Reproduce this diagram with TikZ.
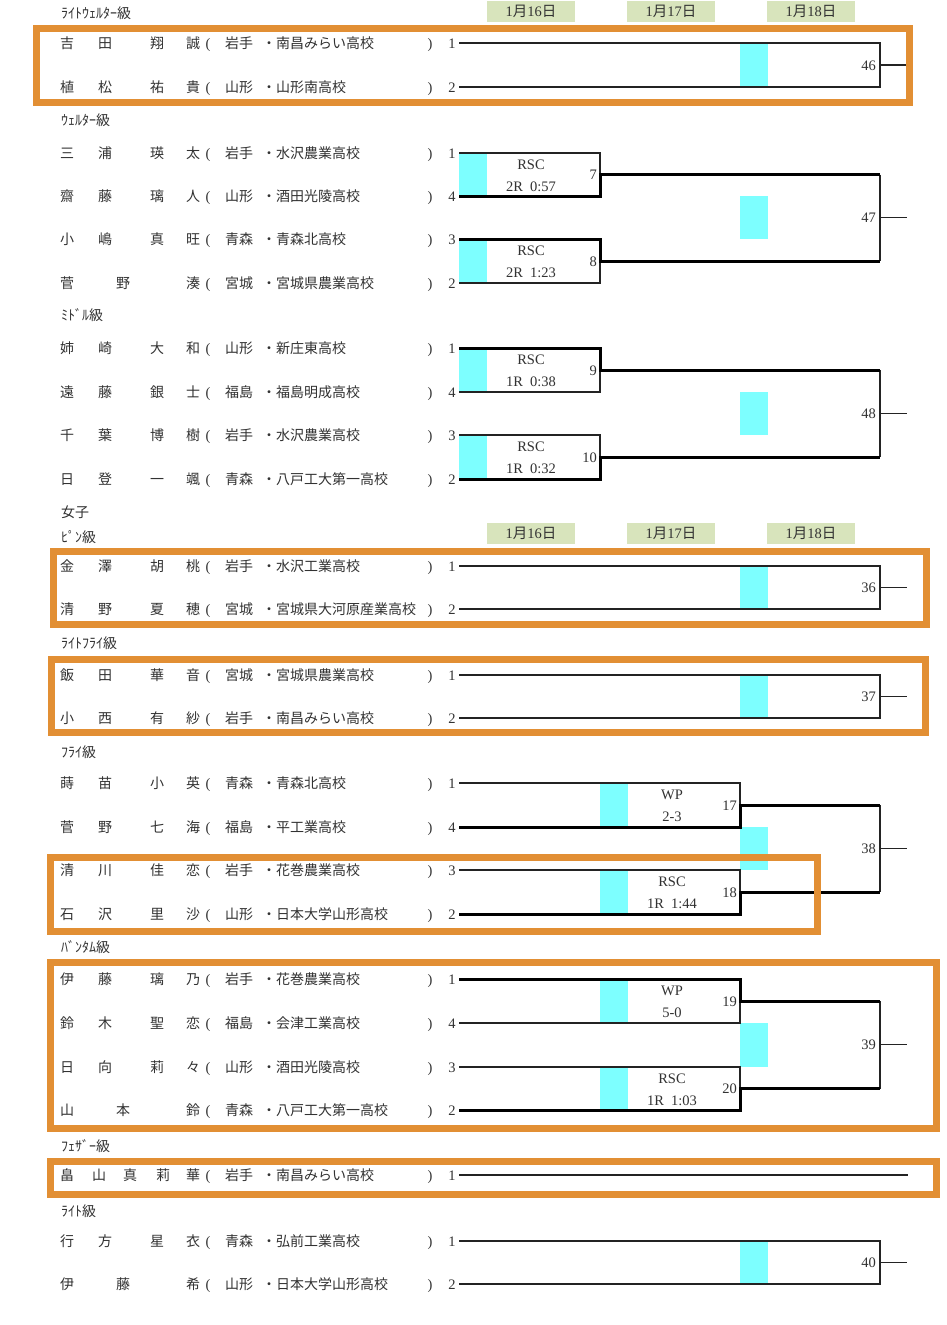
\documentclass[tikz,border=0pt]{standalone}
\usepackage{fontspec}
\setmainfont{Liberation Serif}
\newfontfamily\jp{Noto Sans CJK JP}
\definecolor{orangec}{RGB}{226,143,52}
\definecolor{cyanc}{RGB}{125,255,255}
\definecolor{datec}{RGB}{216,228,188}
\definecolor{txtc}{RGB}{50,50,50}
\definecolor{linec}{RGB}{35,35,35}
\newcounter{tn}
\newcommand\Tx[4][txt]{\stepcounter{tn}\node[#1] (t\arabic{tn}) at (#2,#3+5) {#4};}
\newcommand\prest[4]{\Tx[lat]{208}{#1}{(}\Tx{239}{#1}{#2}\Tx[txtw]{262}{#1}{・#3}\Tx[lat]{430}{#1}{)}\Tx[lat]{452}{#1}{#4}}
\newcommand\pfour[8]{\Tx{67}{#1}{#2}\Tx{105}{#1}{#3}\Tx{157}{#1}{#4}\Tx{193}{#1}{#5}\prest{#1}{#6}{#7}{#8}}
\newcommand\pthree[7]{\Tx{67}{#1}{#2}\Tx{123}{#1}{#3}\Tx{193}{#1}{#4}\prest{#1}{#5}{#6}{#7}}
\newcommand\ftwo[3]{%
  \fill[cyanc] (740,#1) rectangle (768,#2);
  \draw[thinl] (459,#1) -- (880,#1) -- (880,#2) -- (459,#2);
  \pgfmathsetmacro\ymid{(#1+#2)/2}
  \draw[thinl] (880,\ymid) -- (907,\ymid);
  \Tx[latr]{876}{\ymid}{#3}}
\newcommand\ffour[5]{%
  \fill[cyanc] (740,#4) rectangle (768,#5);
  \draw[thinl] (880,#1) -- (880,#2);
  \pgfmathsetmacro\ymid{(#1+#2)/2}
  \draw[thinl] (880,\ymid) -- (907,\ymid);
  \Tx[latr]{876}{\ymid}{#3}}
\newcommand\pairb[8]{%
  \pgfmathsetmacro\pmid{(#1+#2)/2}
  \fill[cyanc] (#4,#1) rectangle (#4+28,#2);
  \ifnum#8=1
    \draw[thinl] (459,#2) -- (#3,#2) -- (#3,\pmid);
    \draw[thickl] (459,#1) -- (#3,#1) -- (#3,\pmid) -- (880,\pmid);
  \else
    \draw[thinl] (459,#1) -- (#3,#1) -- (#3,\pmid);
    \draw[thickl] (459,#2) -- (#3,#2) -- (#3,\pmid) -- (880,\pmid);
  \fi
  \Tx[lat]{#4+72}{#1+11}{#5}
  \Tx[lat]{#4+72}{#1+33}{#6}
  \Tx[latr]{#3-3}{\pmid}{#7}}
\newcommand\dates[1]{%
  \fill[datec] (487,#1) rectangle (575,#1+21);
  \fill[datec] (627,#1) rectangle (715,#1+21);
  \fill[datec] (767,#1) rectangle (855,#1+21);
  \Tx[lat]{531}{#1+10.5}{1{\jp 月}16{\jp 日}}
  \Tx[lat]{671}{#1+10.5}{1{\jp 月}17{\jp 日}}
  \Tx[lat]{811}{#1+10.5}{1{\jp 月}18{\jp 日}}}
\begin{document}
\begin{tikzpicture}[x=1pt,y=-1pt,
  txt/.style={inner sep=0pt,anchor=base,text=txtc,font=\jp\fontsize{14}{15}\selectfont},
  txtw/.style={txt,anchor=base west},
  lbl/.style={txt,anchor=base west,font=\jp\fontsize{14}{14}\selectfont},
  lat/.style={inner sep=0pt,anchor=base,text=txtc,font=\fontsize{14.5}{15}\selectfont},
  latr/.style={lat,anchor=base east},
  thinl/.style={draw=linec,line width=1.1pt},
  thickl/.style={draw=black,line width=3pt},
  obox/.style={draw=orangec,line width=7pt}]
\useasboundingbox (0,0) rectangle (946,1325);
\fill[white] (0,0) rectangle (946,1325);

% ---- dates
\dates{1}
\dates{523}

% ---- Light welter
\Tx[lbl]{61}{13}{ﾗｲﾄｳｪﾙﾀｰ級}
\ftwo{43}{87}{46}
\pfour{43}{吉}{田}{翔}{誠}{岩手}{南昌みらい高校}{1}
\pfour{87}{植}{松}{祐}{貴}{山形}{山形南高校}{2}

% ---- Welter
\Tx[lbl]{61}{120}{ｳｪﾙﾀｰ級}
\ffour{174.5}{261}{47}{196}{239}
\pairb{153}{196}{600}{459}{RSC}{2R\ \ 0:57}{7}{2}
\pairb{239}{283}{600}{459}{RSC}{2R\ \ 1:23}{8}{1}
\pfour{153}{三}{浦}{瑛}{太}{岩手}{水沢農業高校}{1}
\pfour{196}{齋}{藤}{璃}{人}{山形}{酒田光陵高校}{4}
\pfour{239}{小}{嶋}{真}{旺}{青森}{青森北高校}{3}
\pthree{283}{菅}{野}{湊}{宮城}{宮城県農業高校}{2}

% ---- Middle
\Tx[lbl]{61}{315}{ﾐﾄﾞﾙ級}
\ffour{370}{457}{48}{392}{435}
\pairb{348}{392}{600}{459}{RSC}{1R\ \ 0:38}{9}{1}
\pairb{435}{479}{600}{459}{RSC}{1R\ \ 0:32}{10}{2}
\pfour{348}{姉}{崎}{大}{和}{山形}{新庄東高校}{1}
\pfour{392}{遠}{藤}{銀}{士}{福島}{福島明成高校}{4}
\pfour{435}{千}{葉}{博}{樹}{岩手}{水沢農業高校}{3}
\pfour{479}{日}{登}{一}{颯}{青森}{八戸工大第一高校}{2}

% ---- Women
\Tx[lbl]{61}{512}{女子}
\Tx[lbl]{61}{537}{ﾋﾟﾝ級}
\ftwo{566}{609}{36}
\pfour{566}{金}{澤}{胡}{桃}{岩手}{水沢工業高校}{1}
\pfour{609}{清}{野}{夏}{穂}{宮城}{宮城県大河原産業高校}{2}

\Tx[lbl]{61}{643}{ﾗｲﾄﾌﾗｲ級}
\ftwo{675}{718}{37}
\pfour{675}{飯}{田}{華}{音}{宮城}{宮城県農業高校}{1}
\pfour{718}{小}{西}{有}{紗}{岩手}{南昌みらい高校}{2}

% ---- Fly
\Tx[lbl]{61}{752}{ﾌﾗｲ級}
\ffour{805}{892}{38}{827}{870}
\pairb{783}{827}{740}{600}{WP}{2-3}{17}{2}
\pairb{870}{914}{740}{600}{RSC}{1R\ \ 1:44}{18}{2}
\pfour{783}{蒔}{苗}{小}{英}{青森}{青森北高校}{1}
\pfour{827}{菅}{野}{七}{海}{福島}{平工業高校}{4}
\pfour{870}{清}{川}{佳}{恋}{岩手}{花巻農業高校}{3}
\pfour{914}{石}{沢}{里}{沙}{山形}{日本大学山形高校}{2}

% ---- Bantam
\Tx[lbl]{61}{947}{ﾊﾞﾝﾀﾑ級}
\ffour{1001}{1088.5}{39}{1023}{1067}
\pairb{979}{1023}{740}{600}{WP}{5-0}{19}{1}
\pairb{1067}{1110}{740}{600}{RSC}{1R\ \ 1:03}{20}{2}
\pfour{979}{伊}{藤}{璃}{乃}{岩手}{花巻農業高校}{1}
\pfour{1023}{鈴}{木}{聖}{恋}{福島}{会津工業高校}{4}
\pfour{1067}{日}{向}{莉}{々}{山形}{酒田光陵高校}{3}
\pthree{1110}{山}{本}{鈴}{青森}{八戸工大第一高校}{2}

% ---- Feather
\Tx[lbl]{61}{1146}{ﾌｪｻﾞｰ級}
\coordinate (fa) at (459,1175);
\coordinate (fb) at (908,1175);
\draw[thinl] (fa) -- (fb);
\Tx{67}{1175}{畠}\Tx{99}{1175}{山}\Tx{130}{1175}{真}\Tx{163}{1175}{莉}\Tx{193}{1175}{華}
\prest{1175}{岩手}{南昌みらい高校}{1}

% ---- Light
\Tx[lbl]{61}{1211}{ﾗｲﾄ級}
\ftwo{1241}{1284}{40}
\pfour{1241}{行}{方}{星}{衣}{青森}{弘前工業高校}{1}
\pthree{1284}{伊}{藤}{希}{山形}{日本大学山形高校}{2}

% ---- orange highlight boxes
\draw[obox] (36.5,28.5) rectangle (909.5,102.5);
\draw[obox] (53.5,551.5) rectangle (926.5,624.5);
\draw[obox] (51.5,659.5) rectangle (925.5,732.5);
\draw[obox] (50.5,857.5) rectangle (817.5,931.5);
\draw[obox] (50.5,962.5) rectangle (936.5,1128.5);
\draw[obox] (50.5,1161.5) rectangle (936.5,1194.5);
\end{tikzpicture}
\end{document}
